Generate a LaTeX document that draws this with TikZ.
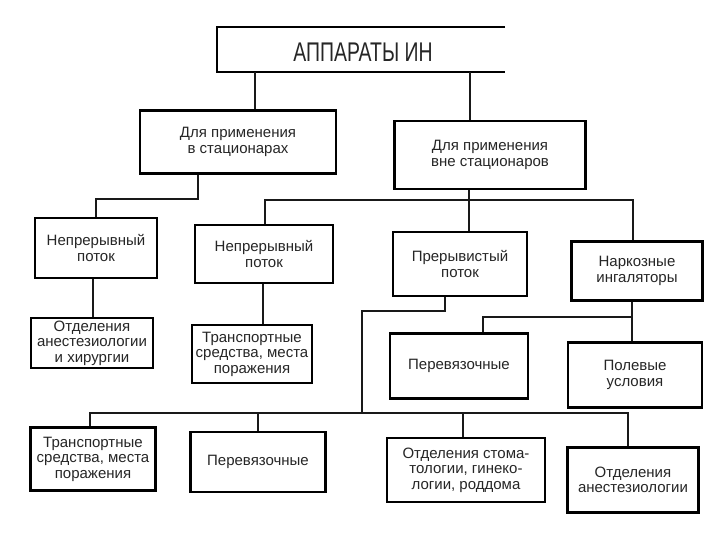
\documentclass[tikz,border=0pt]{standalone}
\usepackage{fontspec}
\setmainfont{Liberation Sans}
\newfontfamily\titlefont{Liberation Sans}[FakeStretch=0.72]
\begin{document}
\begin{tikzpicture}[x=1pt,y=-1pt,
  box/.style={draw=black, line width=2.4pt, align=center, inner sep=0pt,
    font=\fontsize{15}{15.5}\selectfont, text=black!85},
  conn/.style={line width=1.3pt, draw=black!90}]
\useasboundingbox[fill=white] (0,0) rectangle (720,540);

% title (box open on the right, as in the scan)
\node[minimum width=288pt, minimum height=45pt, inner sep=0pt] (title) at (361,49.5) {};
\draw[line width=2.4pt] (title.north east) -- (title.north west) -- (title.south west) -- (title.south east);
\node[font=\titlefont\fontsize{27}{30}\selectfont, text=black!85, inner sep=0pt] (ttext) at (363,52) {АППАРАТЫ ИН};

% level 2
\node[box, minimum width=196pt, minimum height=63pt] (s1) at (238,142) {Для применения\\в стационарах};
\node[box, minimum width=191pt, minimum height=68pt] (s2) at (490,155) {Для применения\\вне стационаров};

% level 3
\node[box, minimum width=122pt, minimum height=60pt] (A) at (96,248) {Непрерывный\\поток};
\node[box, minimum width=138pt, minimum height=58pt] (B) at (264,254) {Непрерывный\\поток};
\node[box, minimum width=134pt, minimum height=64pt] (C) at (460,264) {Прерывистый\\поток};
\node[box, minimum width=131pt, minimum height=59pt] (D) at (637,271) {Наркозные\\ингаляторы};

% level 4
\node[box, minimum width=122pt, minimum height=50pt] (E) at (92,343) {Отделения\\анестезиологии\\и хирургии};
\node[box, minimum width=120pt, minimum height=58pt] (F) at (252,354) {Транспортные\\средства, места\\поражения};
\node[box, minimum width=138pt, minimum height=65pt] (G) at (459,366) {Перевязочные};
\node[box, minimum width=134pt, minimum height=65pt] (H) at (635,375) {Полевые\\условия};

% level 5
\node[box, minimum width=125pt, minimum height=63pt] (I) at (93,459) {Транспортные\\средства, места\\поражения};
\node[box, minimum width=135pt, minimum height=60pt] (J) at (258,462) {Перевязочные};
\node[box, minimum width=158pt, minimum height=64pt] (K) at (466,470) {Отделения стома-\\тологии, гинеко-\\логии, роддома};
\node[box, minimum width=131pt, minimum height=65pt] (L) at (633,480) {Отделения\\анестезиологии};

% junction coordinates
\coordinate (ja) at (198,199);
\coordinate (jb) at (469,200);
\coordinate (jbl) at (265,200);
\coordinate (jbr) at (633,200);
\coordinate (jd) at (632,317);
\coordinate (jdl) at (483,317);
\coordinate (jc) at (445,311);
\coordinate (jcl) at (362,311);
\coordinate (jm) at (362,413);
\coordinate (jl) at (90,413);
\coordinate (jr) at (628,413);
\coordinate (jj) at (258,413);
\coordinate (jk) at (463,413);

% connectors
\draw[conn] (title.south -| 255,0) -- (s1.north -| 255,0);
\draw[conn] (title.south -| 470,0) -- (s2.north -| 470,0);

\draw[conn] (s1.south -| ja) -- (ja) -| (A.north);

\draw[conn] (s2.south -| jb) -- (jb);
\draw[conn] (B.north -| jbl) -- (jbl) -- (jbr) -- (D.north -| jbr);
\draw[conn] (jb) -- (C.north -| jb);

\draw[conn] (A.south -| 93,0) -- (E.north -| 93,0);
\draw[conn] (B.south -| 263,0) -- (F.north -| 263,0);

\draw[conn] (D.south -| jd) -- (H.north -| jd);
\draw[conn] (jd) -- (jdl) -- (G.north -| jdl);

\draw[conn] (C.south -| jc) -- (jc) -- (jcl) -- (jm);
\draw[conn] (I.north -| jl) -- (jl) -- (jr) -- (L.north -| jr);
\draw[conn] (jj) -- (J.north -| jj);
\draw[conn] (jk) -- (K.north -| jk);
\end{tikzpicture}
\end{document}
